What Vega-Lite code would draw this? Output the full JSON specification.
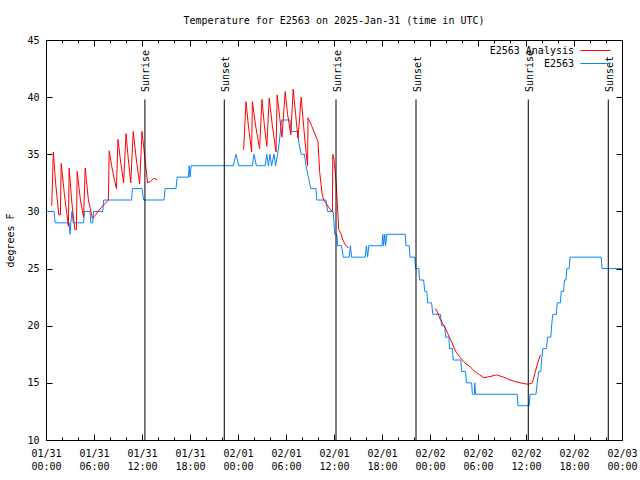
{
  "$schema": "https://vega.github.io/schema/vega-lite/v6.json",
  "width": 576,
  "height": 400,
  "autosize": "none",
  "padding": {"left": 46, "top": 40, "right": 18, "bottom": 40},
  "background": "white",
  "config": {
    "font": "DejaVu Sans Mono",
    "view": {"stroke": "black", "strokeWidth": 1},
    "axis": {
      "labelFont": "DejaVu Sans Mono", "labelFontSize": 10, "labelColor": "black",
      "tickColor": "black", "tickWidth": 1, "domain": false, "grid": false,
      "titleFont": "DejaVu Sans Mono", "titleFontSize": 10, "titleFontWeight": "normal", "titleColor": "black"
    }
  },
  "title": {"text": "Temperature for E2563 on 2025-Jan-31 (time in UTC)", "font": "DejaVu Sans Mono", "fontSize": 10, "fontWeight": "normal", "color": "black", "anchor": "middle", "offset": 9},
  "datasets": {
    "obs": [
      {"t":"2025-01-31T00:00Z","v":30},{"t":"2025-01-31T01:00Z","v":30},{"t":"2025-01-31T01:09Z","v":29},{"t":"2025-01-31T02:54Z","v":29},
      {"t":"2025-01-31T03:00Z","v":28},{"t":"2025-01-31T03:06Z","v":29},{"t":"2025-01-31T03:15Z","v":30},{"t":"2025-01-31T03:24Z","v":29},
      {"t":"2025-01-31T04:42Z","v":29},{"t":"2025-01-31T04:48Z","v":30},{"t":"2025-01-31T05:30Z","v":30},{"t":"2025-01-31T05:36Z","v":29},
      {"t":"2025-01-31T05:51Z","v":29},{"t":"2025-01-31T05:57Z","v":30},{"t":"2025-01-31T07:06Z","v":30},{"t":"2025-01-31T07:12Z","v":31},
      {"t":"2025-01-31T10:42Z","v":31},{"t":"2025-01-31T10:48Z","v":32},{"t":"2025-01-31T12:00Z","v":32},{"t":"2025-01-31T12:12Z","v":31},
      {"t":"2025-01-31T14:45Z","v":31},{"t":"2025-01-31T14:54Z","v":32},{"t":"2025-01-31T16:15Z","v":32},{"t":"2025-01-31T16:24Z","v":33},
      {"t":"2025-01-31T17:48Z","v":33},{"t":"2025-01-31T17:54Z","v":34},{"t":"2025-01-31T18:00Z","v":33},{"t":"2025-01-31T18:09Z","v":34},
      {"t":"2025-01-31T23:24Z","v":34},{"t":"2025-01-31T23:45Z","v":35},{"t":"2025-02-01T00:06Z","v":34},{"t":"2025-02-01T01:48Z","v":34},
      {"t":"2025-02-01T02:00Z","v":35},{"t":"2025-02-01T02:18Z","v":34},{"t":"2025-02-01T03:24Z","v":34},{"t":"2025-02-01T03:36Z","v":35},
      {"t":"2025-02-01T03:48Z","v":34},{"t":"2025-02-01T04:00Z","v":35},{"t":"2025-02-01T04:12Z","v":34},{"t":"2025-02-01T04:30Z","v":35},
      {"t":"2025-02-01T04:42Z","v":34},{"t":"2025-02-01T04:57Z","v":35},{"t":"2025-02-01T05:09Z","v":36},{"t":"2025-02-01T05:18Z","v":37},
      {"t":"2025-02-01T05:27Z","v":38},{"t":"2025-02-01T06:30Z","v":38},{"t":"2025-02-01T06:39Z","v":37},{"t":"2025-02-01T07:30Z","v":37},
      {"t":"2025-02-01T07:36Z","v":36},{"t":"2025-02-01T07:54Z","v":35},{"t":"2025-02-01T08:18Z","v":35},{"t":"2025-02-01T08:30Z","v":34},
      {"t":"2025-02-01T08:48Z","v":33},{"t":"2025-02-01T09:06Z","v":32},{"t":"2025-02-01T09:45Z","v":32},{"t":"2025-02-01T09:51Z","v":31},
      {"t":"2025-02-01T11:00Z","v":31},{"t":"2025-02-01T11:12Z","v":30},{"t":"2025-02-01T11:54Z","v":30},{"t":"2025-02-01T12:00Z","v":29},
      {"t":"2025-02-01T12:06Z","v":28},{"t":"2025-02-01T12:21Z","v":28},{"t":"2025-02-01T12:27Z","v":27},{"t":"2025-02-01T12:57Z","v":27},
      {"t":"2025-02-01T13:09Z","v":26},{"t":"2025-02-01T13:54Z","v":26},{"t":"2025-02-01T14:03Z","v":27},{"t":"2025-02-01T14:12Z","v":26},
      {"t":"2025-02-01T15:54Z","v":26},{"t":"2025-02-01T16:03Z","v":27},{"t":"2025-02-01T16:12Z","v":26},{"t":"2025-02-01T16:21Z","v":27},
      {"t":"2025-02-01T18:00Z","v":27},{"t":"2025-02-01T18:06Z","v":28},{"t":"2025-02-01T18:12Z","v":27},{"t":"2025-02-01T18:21Z","v":28},
      {"t":"2025-02-01T18:27Z","v":27},{"t":"2025-02-01T18:36Z","v":28},{"t":"2025-02-01T20:54Z","v":28},{"t":"2025-02-01T21:00Z","v":27},
      {"t":"2025-02-01T21:24Z","v":27},{"t":"2025-02-01T21:30Z","v":26},{"t":"2025-02-01T22:06Z","v":26},{"t":"2025-02-01T22:12Z","v":25},
      {"t":"2025-02-01T22:36Z","v":25},{"t":"2025-02-01T22:42Z","v":24},{"t":"2025-02-01T23:12Z","v":24},{"t":"2025-02-01T23:21Z","v":23},
      {"t":"2025-02-01T23:36Z","v":23},{"t":"2025-02-01T23:42Z","v":22},{"t":"2025-02-02T00:12Z","v":22},{"t":"2025-02-02T00:21Z","v":21},
      {"t":"2025-02-02T01:18Z","v":21},{"t":"2025-02-02T01:27Z","v":20},{"t":"2025-02-02T01:51Z","v":20},{"t":"2025-02-02T01:57Z","v":19},
      {"t":"2025-02-02T02:21Z","v":19},{"t":"2025-02-02T02:27Z","v":18},{"t":"2025-02-02T02:48Z","v":18},{"t":"2025-02-02T02:54Z","v":17},
      {"t":"2025-02-02T03:51Z","v":17},{"t":"2025-02-02T03:57Z","v":16},{"t":"2025-02-02T04:27Z","v":16},{"t":"2025-02-02T04:33Z","v":15},
      {"t":"2025-02-02T05:12Z","v":15},{"t":"2025-02-02T05:18Z","v":14},{"t":"2025-02-02T05:33Z","v":14},{"t":"2025-02-02T05:36Z","v":15},
      {"t":"2025-02-02T05:42Z","v":14},{"t":"2025-02-02T10:54Z","v":14},{"t":"2025-02-02T11:00Z","v":13},{"t":"2025-02-02T12:24Z","v":13},
      {"t":"2025-02-02T12:30Z","v":14},{"t":"2025-02-02T13:15Z","v":14},{"t":"2025-02-02T13:24Z","v":15},{"t":"2025-02-02T13:36Z","v":16},
      {"t":"2025-02-02T13:51Z","v":16},{"t":"2025-02-02T13:57Z","v":17},{"t":"2025-02-02T14:06Z","v":18},{"t":"2025-02-02T14:33Z","v":18},
      {"t":"2025-02-02T14:42Z","v":19},{"t":"2025-02-02T15:06Z","v":19},{"t":"2025-02-02T15:12Z","v":20},{"t":"2025-02-02T15:21Z","v":21},
      {"t":"2025-02-02T15:48Z","v":21},{"t":"2025-02-02T15:54Z","v":22},{"t":"2025-02-02T16:18Z","v":22},{"t":"2025-02-02T16:24Z","v":23},
      {"t":"2025-02-02T16:42Z","v":23},{"t":"2025-02-02T16:48Z","v":24},{"t":"2025-02-02T17:00Z","v":24},{"t":"2025-02-02T17:06Z","v":25},
      {"t":"2025-02-02T17:24Z","v":25},{"t":"2025-02-02T17:30Z","v":26},{"t":"2025-02-02T21:24Z","v":26},{"t":"2025-02-02T21:30Z","v":25},
      {"t":"2025-02-03T00:00Z","v":25}
    ],
    "ana": [
      {"g":"A","t":"2025-01-31T00:43Z","v":30.5},{"g":"A","t":"2025-01-31T00:55Z","v":35.2},{"g":"A","t":"2025-01-31T01:12Z","v":32.5},
      {"g":"A","t":"2025-01-31T01:36Z","v":29.7},{"g":"A","t":"2025-01-31T01:48Z","v":29.7},{"g":"A","t":"2025-01-31T01:54Z","v":34.2},
      {"g":"A","t":"2025-01-31T02:18Z","v":31.5},{"g":"A","t":"2025-01-31T02:48Z","v":28.7},{"g":"A","t":"2025-01-31T02:54Z","v":33.8},
      {"g":"A","t":"2025-01-31T03:12Z","v":31},{"g":"A","t":"2025-01-31T03:36Z","v":28.4},{"g":"A","t":"2025-01-31T03:48Z","v":28.4},
      {"g":"A","t":"2025-01-31T03:54Z","v":33.5},{"g":"A","t":"2025-01-31T04:18Z","v":31},{"g":"A","t":"2025-01-31T04:42Z","v":29.5},
      {"g":"A","t":"2025-01-31T04:54Z","v":33.8},{"g":"A","t":"2025-01-31T05:18Z","v":31},{"g":"A","t":"2025-01-31T05:48Z","v":29.4},
      {"g":"A","t":"2025-01-31T06:12Z","v":29.7},{"g":"A","t":"2025-01-31T06:36Z","v":30.1},{"g":"A","t":"2025-01-31T07:00Z","v":30.4},
      {"g":"A","t":"2025-01-31T07:24Z","v":30.7},{"g":"A","t":"2025-01-31T07:48Z","v":31.0},{"g":"A","t":"2025-01-31T07:54Z","v":35.3},
      {"g":"A","t":"2025-01-31T08:12Z","v":34},{"g":"A","t":"2025-01-31T08:36Z","v":32.6},{"g":"A","t":"2025-01-31T08:48Z","v":32.0},
      {"g":"A","t":"2025-01-31T09:00Z","v":36.3},{"g":"A","t":"2025-01-31T09:18Z","v":34.5},{"g":"A","t":"2025-01-31T09:42Z","v":32.5},
      {"g":"A","t":"2025-01-31T10:00Z","v":36.8},{"g":"A","t":"2025-01-31T10:18Z","v":34.5},{"g":"A","t":"2025-01-31T10:36Z","v":32.5},
      {"g":"A","t":"2025-01-31T10:54Z","v":37.0},{"g":"A","t":"2025-01-31T11:18Z","v":34.5},{"g":"A","t":"2025-01-31T11:42Z","v":32.4},
      {"g":"A","t":"2025-01-31T12:00Z","v":37.0},{"g":"A","t":"2025-01-31T12:24Z","v":34.4},{"g":"A","t":"2025-01-31T12:42Z","v":32.5},
      {"g":"A","t":"2025-01-31T13:00Z","v":32.6},{"g":"A","t":"2025-01-31T13:18Z","v":32.8},{"g":"A","t":"2025-01-31T13:36Z","v":32.9},
      {"g":"A","t":"2025-01-31T13:54Z","v":32.75},
      {"g":"B","t":"2025-02-01T00:42Z","v":35.4},{"g":"B","t":"2025-02-01T01:00Z","v":39.6},{"g":"B","t":"2025-02-01T01:18Z","v":37.5},
      {"g":"B","t":"2025-02-01T01:42Z","v":35.2},{"g":"B","t":"2025-02-01T01:48Z","v":39.6},{"g":"B","t":"2025-02-01T02:12Z","v":37.5},
      {"g":"B","t":"2025-02-01T02:42Z","v":35.5},{"g":"B","t":"2025-02-01T03:00Z","v":39.8},{"g":"B","t":"2025-02-01T03:18Z","v":37.5},
      {"g":"B","t":"2025-02-01T03:36Z","v":35.7},{"g":"B","t":"2025-02-01T03:54Z","v":39.9},{"g":"B","t":"2025-02-01T04:18Z","v":37.5},
      {"g":"B","t":"2025-02-01T04:45Z","v":35.2},{"g":"B","t":"2025-02-01T04:54Z","v":40.2},{"g":"B","t":"2025-02-01T05:12Z","v":38.3},
      {"g":"B","t":"2025-02-01T05:30Z","v":36.5},{"g":"B","t":"2025-02-01T05:54Z","v":40.5},{"g":"B","t":"2025-02-01T06:12Z","v":38.5},
      {"g":"B","t":"2025-02-01T06:36Z","v":36.7},{"g":"B","t":"2025-02-01T06:54Z","v":40.7},{"g":"B","t":"2025-02-01T07:12Z","v":38.5},
      {"g":"B","t":"2025-02-01T07:30Z","v":36.4},{"g":"B","t":"2025-02-01T07:54Z","v":40.0},{"g":"B","t":"2025-02-01T08:12Z","v":37.5},
      {"g":"B","t":"2025-02-01T08:30Z","v":35.2},{"g":"B","t":"2025-02-01T08:42Z","v":34.0},{"g":"B","t":"2025-02-01T08:45Z","v":38.2},
      {"g":"B","t":"2025-02-01T09:12Z","v":37.5},{"g":"B","t":"2025-02-01T09:36Z","v":36.8},{"g":"B","t":"2025-02-01T10:00Z","v":36.1},
      {"g":"B","t":"2025-02-01T10:12Z","v":33.5},{"g":"B","t":"2025-02-01T10:30Z","v":31.6},{"g":"B","t":"2025-02-01T10:42Z","v":31.0},
      {"g":"B","t":"2025-02-01T11:00Z","v":30.7},{"g":"B","t":"2025-02-01T11:30Z","v":30.2},{"g":"B","t":"2025-02-01T11:48Z","v":30.0},
      {"g":"B","t":"2025-02-01T11:51Z","v":35.0},{"g":"B","t":"2025-02-01T12:00Z","v":34.5},{"g":"B","t":"2025-02-01T12:15Z","v":32.7},
      {"g":"B","t":"2025-02-01T12:36Z","v":28.4},{"g":"B","t":"2025-02-01T12:54Z","v":28.0},{"g":"B","t":"2025-02-01T13:06Z","v":27.5},
      {"g":"B","t":"2025-02-01T13:24Z","v":27.1},{"g":"B","t":"2025-02-01T13:48Z","v":26.8},
      {"g":"C","t":"2025-02-02T00:36Z","v":21.5},{"g":"C","t":"2025-02-02T00:48Z","v":21.4},{"g":"C","t":"2025-02-02T01:15Z","v":20.6},
      {"g":"C","t":"2025-02-02T01:54Z","v":19.8},{"g":"C","t":"2025-02-02T02:30Z","v":18.9},{"g":"C","t":"2025-02-02T03:15Z","v":17.7},
      {"g":"C","t":"2025-02-02T04:12Z","v":16.85},{"g":"C","t":"2025-02-02T05:00Z","v":16.4},{"g":"C","t":"2025-02-02T05:36Z","v":16.0},
      {"g":"C","t":"2025-02-02T06:12Z","v":15.7},{"g":"C","t":"2025-02-02T06:42Z","v":15.45},{"g":"C","t":"2025-02-02T07:30Z","v":15.55},
      {"g":"C","t":"2025-02-02T08:18Z","v":15.7},{"g":"C","t":"2025-02-02T09:12Z","v":15.5},{"g":"C","t":"2025-02-02T10:00Z","v":15.25},
      {"g":"C","t":"2025-02-02T11:00Z","v":15.05},{"g":"C","t":"2025-02-02T12:00Z","v":14.9},{"g":"C","t":"2025-02-02T12:24Z","v":14.9},
      {"g":"C","t":"2025-02-02T12:48Z","v":15.0},{"g":"C","t":"2025-02-02T13:06Z","v":15.8},{"g":"C","t":"2025-02-02T13:24Z","v":16.6},
      {"g":"C","t":"2025-02-02T13:48Z","v":17.45}
    ],
    "sun": [
      {"t":"2025-01-31T12:22Z","label":"Sunrise"},{"t":"2025-01-31T22:17Z","label":"Sunset"},
      {"t":"2025-02-01T12:15Z","label":"Sunrise"},{"t":"2025-02-01T22:15Z","label":"Sunset"},
      {"t":"2025-02-02T12:17Z","label":"Sunrise"},{"t":"2025-02-02T22:17Z","label":"Sunset"}
    ]
  },
  "resolve": {"axis": {"x": "independent", "y": "independent"}},
  "layer": [
    {
      "data": {"name": "obs"},
      "mark": {"type": "line", "strokeWidth": 1},
      "encoding": {
        "x": {"field": "t", "type": "temporal",
          "scale": {"type": "utc", "domain": [1738281600000, 1738540800000]},
          "axis": {"orient": "bottom", "title": null, "tickSize": -6, "labelPadding": 14, "labelLineHeight": 13, "labelFlush": false, "labelOverlap": false,
            "values": [1738281600000, 1738303200000, 1738324800000, 1738346400000, 1738368000000, 1738389600000, 1738411200000, 1738432800000, 1738454400000, 1738476000000, 1738497600000, 1738519200000, 1738540800000],
            "labelExpr": "[utcFormat(datum.value, '%m/%d'), utcFormat(datum.value, '%H:%M')]"}},
        "y": {"field": "v", "type": "quantitative",
          "scale": {"domain": [10, 45], "nice": false, "zero": false},
          "axis": {"orient": "left", "title": "degrees F", "values": [10, 15, 20, 25, 30, 35, 40, 45], "tickSize": -6, "labelPadding": 13, "titleX": -31, "titleY": 200, "titleAlign": "center", "titleAngle": 270, "titleBaseline": "bottom"}},
        "color": {"datum": "E2563", "type": "nominal",
          "scale": {"domain": ["E2563 Analysis", "E2563"], "range": ["#ff0000", "#0a84ff"]},
          "legend": {"orient": "none", "legendX": 544, "legendY": 5, "title": null, "padding": 0, "symbolType": "M-3,0H3", "symbolSize": 100, "symbolStrokeWidth": 1, "symbolFillColor": "transparent", "labelFont": "DejaVu Sans Mono", "labelFontSize": 10, "labelColor": "black", "labelAlign": "right", "labelOffset": -27, "rowPadding": 2}}
      }
    },
    {
      "data": {"name": "ana"},
      "mark": {"type": "line", "strokeWidth": 1},
      "encoding": {
        "x": {"field": "t", "type": "temporal",
          "axis": {"orient": "top", "title": null, "labels": false, "tickSize": -6,
            "values": [1738281600000, 1738303200000, 1738324800000, 1738346400000, 1738368000000, 1738389600000, 1738411200000, 1738432800000, 1738454400000, 1738476000000, 1738497600000, 1738519200000, 1738540800000]}},
        "y": {"field": "v", "type": "quantitative",
          "axis": {"orient": "right", "title": null, "labels": false, "values": [10, 15, 20, 25, 30, 35, 40, 45], "tickSize": -6}},
        "color": {"datum": "E2563 Analysis", "type": "nominal"},
        "detail": {"field": "g", "type": "nominal"}
      }
    },
    {
      "data": {"name": "sun"},
      "mark": {"type": "rule", "color": "black", "strokeWidth": 1},
      "encoding": {
        "x": {"field": "t", "type": "temporal",
          "axis": {"orient": "bottom", "title": null, "labels": false, "tickSize": -3,
            "values": [1738281600000, 1738288800000, 1738296000000, 1738303200000, 1738310400000, 1738317600000, 1738324800000, 1738332000000, 1738339200000, 1738346400000, 1738353600000, 1738360800000, 1738368000000, 1738375200000, 1738382400000, 1738389600000, 1738396800000, 1738404000000, 1738411200000, 1738418400000, 1738425600000, 1738432800000, 1738440000000, 1738447200000, 1738454400000, 1738461600000, 1738468800000, 1738476000000, 1738483200000, 1738490400000, 1738497600000, 1738504800000, 1738512000000, 1738519200000, 1738526400000, 1738533600000, 1738540800000]}},
        "y": {"datum": 10, "type": "quantitative", "axis": null},
        "y2": {"datum": 39.8}
      }
    },
    {
      "data": {"name": "sun"},
      "mark": {"type": "text", "angle": 270, "align": "left", "baseline": "middle", "dy": 1.5, "font": "DejaVu Sans Mono", "fontSize": 10, "color": "black"},
      "encoding": {
        "x": {"field": "t", "type": "temporal",
          "axis": {"orient": "top", "title": null, "labels": false, "tickSize": -3,
            "values": [1738281600000, 1738288800000, 1738296000000, 1738303200000, 1738310400000, 1738317600000, 1738324800000, 1738332000000, 1738339200000, 1738346400000, 1738353600000, 1738360800000, 1738368000000, 1738375200000, 1738382400000, 1738389600000, 1738396800000, 1738404000000, 1738411200000, 1738418400000, 1738425600000, 1738432800000, 1738440000000, 1738447200000, 1738454400000, 1738461600000, 1738468800000, 1738476000000, 1738483200000, 1738490400000, 1738497600000, 1738504800000, 1738512000000, 1738519200000, 1738526400000, 1738533600000, 1738540800000]}},
        "y": {"datum": 40.45, "type": "quantitative", "axis": null},
        "text": {"field": "label"}
      }
    }
  ]
}
